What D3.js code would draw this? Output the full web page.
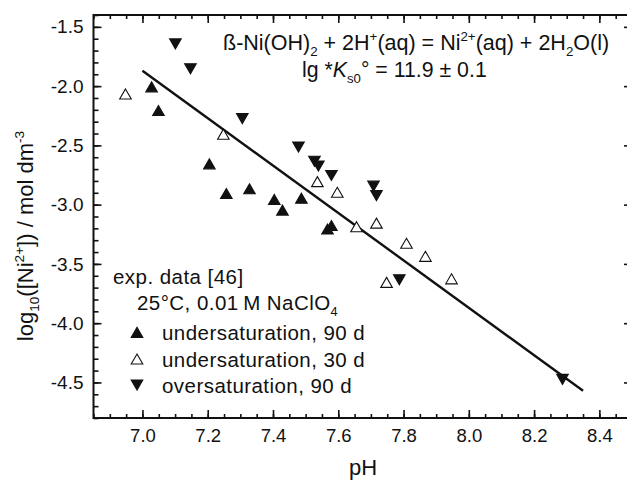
<!DOCTYPE html>
<html>
<head>
<meta charset="utf-8">
<script src="https://cdn.jsdelivr.net/npm/d3@7"></script>
<style>
  body { margin: 0; background: #fff; }
  text { font-family: "Liberation Sans", Arial, sans-serif; fill: #111; }
</style>
</head>
<body>
<div id="chart-area"></div>
<script>
// Data
const under90PH = [7.028, 7.049, 7.205, 7.257, 7.328, 7.404, 7.429, 7.487, 7.567, 7.579]
const under90Lg = [-2.02, -2.22, -2.67, -2.92, -2.88, -2.97, -3.06, -2.96, -3.22, -3.19]

const under30PH = [6.948, 7.248, 7.536, 7.597, 7.656, 7.717, 7.809, 7.867, 7.748, 7.947]
const under30Lg = [-2.08, -2.42, -2.82, -2.91, -3.20, -3.17, -3.34, -3.45, -3.67, -3.64]

const over90PH = [7.101, 7.147, 7.306, 7.478, 7.527, 7.539, 7.579, 7.708, 7.717, 7.787, 8.287]
const over90Lg = [-1.63, -1.84, -2.26, -2.50, -2.62, -2.66, -2.74, -2.83, -2.91, -3.62, -4.46]

const fitPH = [7.0, 8.35]
const fitLg = [-1.87, -4.57]

const xTicks = [7.0, 7.2, 7.4, 7.6, 7.8, 8.0, 8.2, 8.4]
const yTicks = [-1.5, -2.0, -2.5, -3.0, -3.5, -4.0, -4.5]

const W = 627, H = 480
const svg = d3.select("#chart-area").append("svg")
  .attr("width", W)
  .attr("height", H)

const x = d3.scaleLinear().domain([6.85, 8.5]).range([93.5, 632])
const y = d3.scaleLinear().domain([-4.8, -1.4]).range([418, 15])

const xMinor = d3.range(6.85, 8.5001, 0.05).map(v => +v.toFixed(2))
const yMinor = d3.range(-4.8, -1.3999, 0.1).map(v => +v.toFixed(1))

// frame
svg.append("rect")
  .attr("x", x.range()[0]).attr("y", y.range()[1])
  .attr("width", x.range()[1] - x.range()[0])
  .attr("height", y.range()[0] - y.range()[1])
  .attr("fill", "none").attr("stroke", "#111").attr("stroke-width", 2)

function tickAxis(axis, t) {
  const g = svg.append("g").attr("transform", t).call(axis)
  g.select(".domain").remove()
  g.selectAll("line").attr("stroke", "#111").attr("stroke-width", 1.6)
  return g
}

// bottom axis
tickAxis(d3.axisBottom(x).tickValues(xMinor).tickSize(-4).tickFormat(""), `translate(0,${y.range()[0]})`)
const bx = tickAxis(d3.axisBottom(x).tickValues(xTicks).tickSize(-8).tickPadding(11).tickFormat(d3.format(".1f")),
  `translate(0,${y.range()[0]})`)
bx.selectAll("text").attr("font-size", "18.5px").attr("fill", "#111")
// top axis
tickAxis(d3.axisTop(x).tickValues(xMinor).tickSize(-4).tickFormat(""), `translate(0,${y.range()[1]})`)
tickAxis(d3.axisTop(x).tickValues(xTicks).tickSize(-8).tickFormat(""), `translate(0,${y.range()[1]})`)

// left axis
tickAxis(d3.axisLeft(y).tickValues(yMinor).tickSize(-5).tickFormat(""), `translate(${x.range()[0]},0)`)
const ly = tickAxis(d3.axisLeft(y).tickValues(yTicks).tickSize(-8).tickPadding(10).tickFormat(d3.format(".1f")),
  `translate(${x.range()[0]},0)`)
ly.selectAll("text").attr("font-size", "19px").attr("fill", "#111")
  .text(d => d3.format(".1f")(d).replace("−", "-"))
// right axis
tickAxis(d3.axisRight(y).tickValues(yMinor).tickSize(-5).tickFormat(""), `translate(${x.range()[1]},0)`)
tickAxis(d3.axisRight(y).tickValues(yTicks).tickSize(-8).tickFormat(""), `translate(${x.range()[1]},0)`)

// fit line
const line = d3.line().x(d => x(d[0])).y(d => y(d[1]))
svg.append("path")
  .datum(d3.zip(fitPH, fitLg))
  .attr("d", line)
  .attr("fill", "none").attr("stroke", "#111").attr("stroke-width", 2.4)

// markers
const triUp = d3.symbol().type(d3.symbolTriangle).size(58)
function drawSet(xs, ys, fill, rot) {
  svg.append("g").selectAll("path")
    .data(d3.zip(xs, ys))
    .join("path")
    .attr("d", triUp)
    .attr("transform", d => `translate(${x(d[0])},${y(d[1])}) rotate(${rot})`)
    .attr("fill", fill)
    .attr("stroke", "#111").attr("stroke-width", 1.1)
}
drawSet(under90PH, under90Lg, "#111", 0)
drawSet(under30PH, under30Lg, "#fff", 0)
drawSet(over90PH, over90Lg, "#111", 180)

// helpers for sub/superscripts
const sub = (el, s) => el.append("tspan").attr("font-size", "0.62em").attr("dy", 6).text(s)
const sup = (el, s) => el.append("tspan").attr("font-size", "0.62em").attr("dy", -9).text(s)
const norm = (el, s, dy) => el.append("tspan").attr("dy", dy).text(s)

// reaction annotation
const t1 = svg.append("text").attr("x", 223).attr("y", 50).attr("font-size", "21.5px")
norm(t1, "ß-Ni(OH)", 0); sub(t1, "2"); norm(t1, " + 2H", -6); sup(t1, "+"); norm(t1, "(aq) = Ni", 9)
sup(t1, "2+"); norm(t1, "(aq) + 2H", 9); sub(t1, "2"); norm(t1, "O(l)", -6)

const t2 = svg.append("text").attr("x", 302).attr("y", 77).attr("font-size", "21.3px")
norm(t2, "lg *", 0)
t2.append("tspan").attr("font-style", "italic").text("K")
sub(t2, "s0"); norm(t2, "° = 11.9 ± 0.1", -6)

// legend
svg.append("text").attr("x", 113).attr("y", 284).attr("font-size", "20.5px")
  .attr("letter-spacing", "0.45px").text("exp. data [46]")
const t3 = svg.append("text").attr("x", 137).attr("y", 310).attr("font-size", "20.5px")
  .attr("letter-spacing", "0.45px")
norm(t3, "25°C, 0.01\u2009M NaClO", 0); sub(t3, "4")

const legendItems = [
  { label: "undersaturation, 90 d", fill: "#111", rot: 0 },
  { label: "undersaturation, 30 d", fill: "#fff", rot: 0 },
  { label: "oversaturation, 90 d", fill: "#111", rot: 180 }
]
legendItems.forEach((it, i) => {
  const base = 340 + i * 26.7
  const cy = base - (it.rot ? 10 : 6)
  svg.append("path").attr("d", triUp)
    .attr("transform", `translate(137,${cy}) rotate(${it.rot})`)
    .attr("fill", it.fill).attr("stroke", "#111").attr("stroke-width", 1.1)
  svg.append("text").attr("x", 162).attr("y", base).attr("font-size", "20.5px")
    .attr("letter-spacing", "0.45px").text(it.label)
})

// axis titles
svg.append("text").attr("x", 363).attr("y", 475).attr("font-size", "22px")
  .attr("text-anchor", "middle").text("pH")

const yl = svg.append("text")
  .attr("transform", "translate(33,236) rotate(-90)")
  .attr("text-anchor", "middle").attr("font-size", "22px")
norm(yl, "log", 0); sub(yl, "10"); norm(yl, "([Ni", -6); sup(yl, "2+"); norm(yl, "]) / mol dm", 9); sup(yl, "-3")
</script>
</body>
</html>
